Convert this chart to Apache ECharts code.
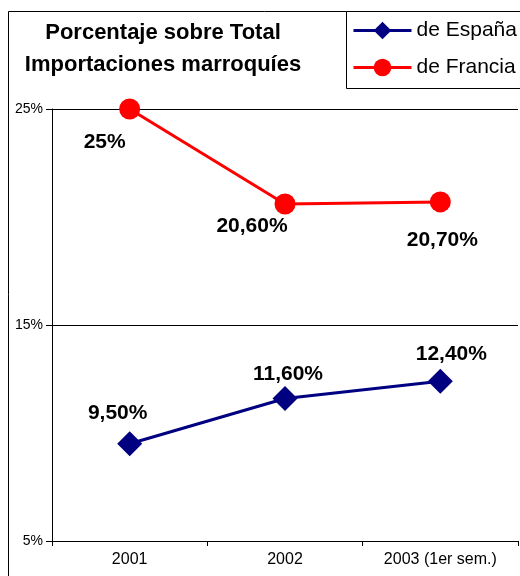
<!DOCTYPE html>
<html>
<head>
<meta charset="utf-8">
<script src="https://cdn.jsdelivr.net/npm/echarts@6/dist/echarts.min.js"></script>
<style>
  html, body { margin: 0; padding: 0; background: #fff; }
  #chart { width: 520px; height: 576px; }
</style>
</head>
<body>
<div id="chart"></div>
<script>
var years = ['2001', '2002', '2003 (1er sem.)'];
var espana = [9.5, 11.6, 12.4];
var francia = [25, 20.6, 20.7];
var espanaLabels = ['9,50%', '11,60%', '12,40%'];
var franciaLabels = ['25%', '20,60%', '20,70%'];

(function () {
  let myChart = echarts.init(document.getElementById('chart'));

  // 每个数据标签的偏移
  let espanaOffsets = [[-12, -31], [3, -24], [11, -27]];
  let franciaOffsets = [[-25, 33], [-33, 22], [2, 38]];

  function makeData(values, labels, offsets) {
    return values.map(function (v, i) {
      return {
        value: v,
        label: { formatter: labels[i], offset: offsets[i] }
      };
    });
  }

  let labelStyle = {
    show: true,
    position: 'inside',
    fontFamily: 'Arial, Liberation Sans',
    fontWeight: 'bold',
    fontSize: 21,
    color: '#000'
  };

  let option = {
    animation: false,
    textStyle: { fontFamily: 'Arial, Liberation Sans' },
    graphic: [
      {
        type: 'rect',
        shape: { x: 8.5, y: 11.5, width: 540, height: 600 },
        style: { fill: 'none', stroke: '#000', lineWidth: 1 }
      },
      {
        type: 'rect',
        shape: { x: 346.5, y: 11.5, width: 200, height: 77 },
        style: { fill: '#fff', stroke: '#000', lineWidth: 1 }
      },
      {
        type: 'text',
        x: 163,
        y: 17,
        style: {
          text: 'Porcentaje sobre Total\nImportaciones marroquíes',
          textAlign: 'center',
          textVerticalAlign: 'top',
          font: 'bold 22px Arial, Liberation Sans',
          lineHeight: 32,
          fill: '#000'
        }
      }
    ],
    legend: {
      orient: 'vertical',
      left: 352,
      top: 20,
      padding: 0,
      itemWidth: 58,
      itemHeight: 22,
      itemGap: 16,
      lineStyle: { width: 3 },
      textStyle: { fontSize: 21, color: '#000', fontFamily: 'Arial, Liberation Sans' },
      data: ['de España', 'de Francia']
    },
    grid: {
      left: 52,
      right: 2,
      top: 109,
      bottom: 35
    },
    xAxis: {
      type: 'category',
      data: years,
      boundaryGap: true,
      axisLine: { lineStyle: { color: '#000', width: 1 } },
      axisTick: { show: true, length: 5, lineStyle: { color: '#000' } },
      axisLabel: { color: '#000', fontSize: 16, margin: 11 }
    },
    yAxis: {
      type: 'value',
      min: 5,
      max: 25,
      interval: 10,
      axisLine: { show: true, lineStyle: { color: '#000', width: 1 } },
      axisTick: { show: true, length: 6, lineStyle: { color: '#000' } },
      axisLabel: { color: '#000', fontSize: 14, margin: 9, formatter: '{value}%' },
      splitLine: { show: true, lineStyle: { color: '#000', width: 1 } }
    },
    series: [
      {
        name: 'de España',
        type: 'line',
        symbol: 'diamond',
        symbolSize: 25,
        color: '#000080',
        lineStyle: { color: '#000080', width: 3 },
        itemStyle: { color: '#000080' },
        label: labelStyle,
        data: makeData(espana, espanaLabels, espanaOffsets)
      },
      {
        name: 'de Francia',
        type: 'line',
        symbol: 'circle',
        symbolSize: 21,
        color: '#ff0000',
        lineStyle: { color: '#ff0000', width: 3 },
        itemStyle: { color: '#ff0000' },
        label: labelStyle,
        data: makeData(francia, franciaLabels, franciaOffsets)
      }
    ]
  };
  myChart.setOption(option);
})();
</script>
</body>
</html>
